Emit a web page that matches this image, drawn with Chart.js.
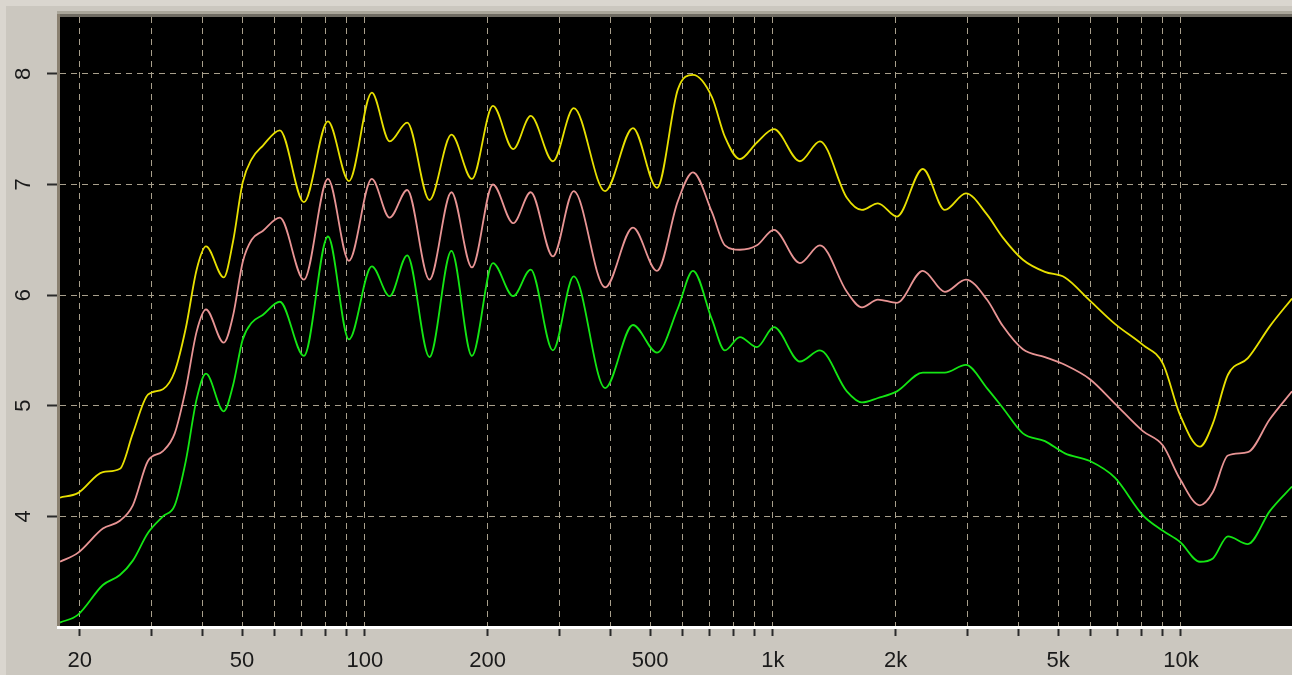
<!DOCTYPE html>
<html lang="en">
<head>
  <meta charset="UTF-8">
  <title>Response curves</title>
  <style>
    html, body {
      margin: 0;
      padding: 0;
      background: #cbc7bf;
    }
    canvas {
      display: block;
    }
  </style>
  <script src="https://cdn.jsdelivr.net/npm/chart.js"></script>
</head>
<body>
  <canvas id="responseChart" width="1292" height="675"></canvas>

  <script>
    // frequency points (Hz), shared by the three traces
    const freqs = [17.9, 19.8, 22.8, 25.1, 27.0, 29.4, 32.0, 34.2, 36.4, 38.7,
      40.8, 45.1, 47.5, 50.2, 52.8, 56.2, 61.9, 70.9, 81.2, 91.4,
      104, 115, 127, 144, 163, 183, 206, 231, 255, 289,
      325, 388, 454, 520, 585, 637, 709, 763, 830, 914,
      1006, 1165, 1304, 1518, 1653, 1809, 2014, 2331, 2640, 2972,
      3346, 3662, 4100, 4642, 5196, 5984, 6890, 8070, 9035, 9943,
      11130, 11980, 13040, 14590, 16530, 18720];

    const yellowVals = [4.17, 4.21, 4.40, 4.43, 4.75, 5.10, 5.15, 5.31, 5.70, 6.23,
      6.44, 6.16, 6.48, 7.02, 7.23, 7.35, 7.49, 6.84, 7.57, 7.03,
      7.83, 7.39, 7.56, 6.86, 7.45, 7.05, 7.71, 7.32, 7.62, 7.21,
      7.69, 6.94, 7.51, 6.97, 7.86, 7.99, 7.79, 7.43, 7.23, 7.38,
      7.50, 7.21, 7.39, 6.88, 6.77, 6.83, 6.71, 7.14, 6.77, 6.92,
      6.73, 6.52, 6.32, 6.21, 6.16, 5.95, 5.74, 5.55, 5.38, 4.92,
      4.63, 4.84, 5.28, 5.43, 5.72, 5.97];

    const pinkVals = [3.59, 3.67, 3.89, 3.96, 4.10, 4.50, 4.59, 4.75, 5.15, 5.67,
      5.87, 5.57, 5.81, 6.30, 6.50, 6.58, 6.70, 6.14, 7.05, 6.31,
      7.05, 6.70, 6.95, 6.14, 6.93, 6.25, 7.00, 6.65, 6.93, 6.35,
      6.94, 6.07, 6.61, 6.22, 6.85, 7.11, 6.75, 6.45, 6.41, 6.45,
      6.59, 6.29, 6.45, 6.03, 5.89, 5.96, 5.93, 6.22, 6.03, 6.14,
      5.96, 5.72, 5.51, 5.44, 5.37, 5.24, 5.02, 4.77, 4.64, 4.34,
      4.10, 4.22, 4.55, 4.58, 4.88, 5.13];

    const greenVals = [3.04, 3.11, 3.38, 3.47, 3.60, 3.85, 4.00, 4.10, 4.50, 5.06,
      5.29, 4.95, 5.18, 5.60, 5.75, 5.82, 5.94, 5.45, 6.53, 5.60,
      6.26, 5.99, 6.36, 5.44, 6.40, 5.45, 6.29, 5.99, 6.23, 5.50,
      6.17, 5.16, 5.73, 5.48, 5.88, 6.22, 5.78, 5.50, 5.62, 5.53,
      5.71, 5.40, 5.50, 5.13, 5.03, 5.07, 5.13, 5.30, 5.30, 5.37,
      5.16, 4.98, 4.75, 4.68, 4.57, 4.50, 4.35, 4.01, 3.87, 3.77,
      3.59, 3.62, 3.82, 3.75, 4.05, 4.27];

    // grid lines on x and the ones that carry a label
    const xGrid = [20, 30, 40, 50, 60, 70, 80, 90,
      100, 200, 300, 400, 500, 600, 700, 800, 900,
      1000, 2000, 3000, 4000, 5000, 6000, 7000, 8000, 9000, 10000];
    const xLabels = { 20: '20', 50: '50', 100: '100', 200: '200', 500: '500',
      1000: '1k', 2000: '2k', 5000: '5k', 10000: '10k' };
    const yTicks = [4, 5, 6, 7, 8];

    const toPoints = vals => vals.map((v, i) => ({ x: freqs[i], y: v }));

    // black plot background and the sunken frame around it
    const framePlugin = {
      id: 'frame',
      beforeDraw(chart) {
        const { ctx, chartArea: a } = chart;
        ctx.save();
        ctx.fillStyle = '#cbc7bf';
        ctx.fillRect(0, 0, chart.width, chart.height);
        // lighter outer edge at the top and left of the window
        ctx.fillStyle = '#dad6cf';
        ctx.fillRect(0, 0, chart.width, 6);
        ctx.fillRect(0, 0, 6, chart.height);
        ctx.fillStyle = '#000';
        ctx.fillRect(a.left, a.top, a.right - a.left, a.bottom - a.top);
        ctx.restore();
      },
      afterDraw(chart) {
        const { ctx, chartArea: a } = chart;
        ctx.save();
        ctx.fillStyle = '#aaa69a';
        ctx.fillRect(a.left - 3, a.top - 6, a.right - a.left + 3, 3);
        ctx.fillStyle = '#6f6b62';
        ctx.fillRect(a.left - 3, a.top - 3, a.right - a.left + 3, 3);
        ctx.fillStyle = '#8a8070';
        ctx.fillRect(a.left - 3, a.top - 3, 3, a.bottom - a.top + 3);
        ctx.fillStyle = '#ffffff';
        ctx.fillRect(a.left - 3, a.bottom - 1, a.right - a.left + 3, 3);
        ctx.restore();
      }
    };

    const gridColor = '#a89f8c';
    const labelFont = { family: 'Liberation Sans, Arial, sans-serif', size: 22 };

    new Chart(document.getElementById('responseChart'), {
      type: 'line',
      data: {
        datasets: [
          { data: toPoints(yellowVals), borderColor: '#e8e000' },
          { data: toPoints(pinkVals), borderColor: '#e89494' },
          { data: toPoints(greenVals), borderColor: '#14e614' }
        ]
      },
      options: {
        responsive: false,
        animation: false,
        layout: { padding: { top: 17, left: 0, right: 0, bottom: 0 } },
        elements: {
          point: { radius: 0 },
          line: { borderWidth: 1.8, cubicInterpolationMode: 'monotone', fill: false }
        },
        plugins: {
          legend: { display: false },
          tooltip: { enabled: false }
        },
        scales: {
          x: {
            type: 'logarithmic',
            bounds: 'data',
            min: 17.9,
            max: 18720,
            afterBuildTicks: scale => { scale.ticks = xGrid.map(v => ({ value: v })); },
            afterFit: scale => {
              scale.height = 48;
              scale.paddingLeft = 0;
              scale.paddingRight = 0;
            },
            border: { display: false, dash: [6, 5] },
            grid: {
              color: gridColor,
              tickColor: '#2a2a2a',
              tickLength: 9,
              tickWidth: 2,
              tickBorderDash: []
            },
            ticks: {
              autoSkip: false,
              maxRotation: 0,
              minRotation: 0,
              padding: 12,
              color: '#1a1a1a',
              font: labelFont,
              callback: v => xLabels[v] || ''
            }
          },
          y: {
            type: 'linear',
            min: 3,
            max: 8.514,
            afterBuildTicks: scale => { scale.ticks = yTicks.map(v => ({ value: v })); },
            afterFit: scale => {
              scale.width = 60;
              scale.paddingTop = 0;
              scale.paddingBottom = 0;
            },
            border: { display: false, dash: [6, 5] },
            grid: {
              color: gridColor,
              tickColor: '#2a2a2a',
              tickLength: 13,
              tickWidth: 2,
              tickBorderDash: []
            },
            ticks: {
              minRotation: 90,
              maxRotation: 90,
              crossAlign: 'center',
              padding: 17,
              color: '#1a1a1a',
              font: labelFont
            }
          }
        }
      },
      plugins: [framePlugin]
    });
  </script>
</body>
</html>
